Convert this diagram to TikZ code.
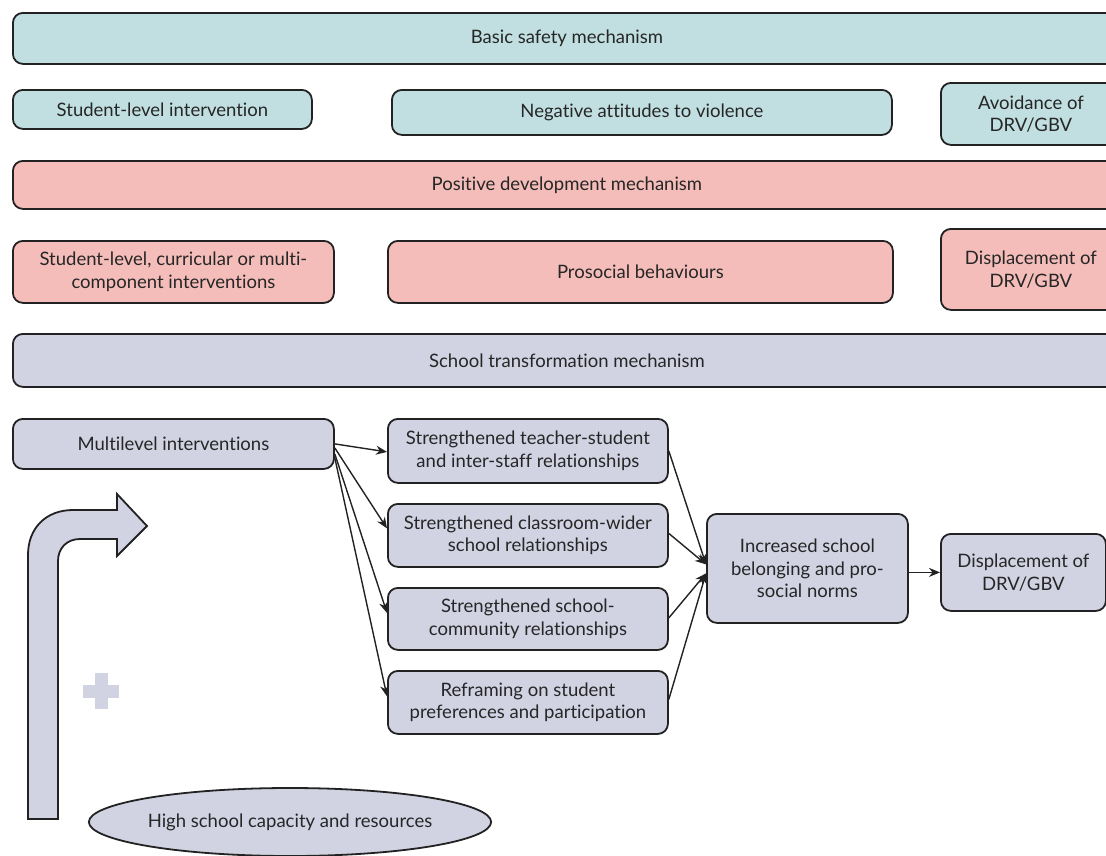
\documentclass[tikz,border=0pt]{standalone}
\usepackage{fontspec}
\setmainfont{Lato}[Ligatures=NoCommon]
\usetikzlibrary{arrows.meta,shapes.geometric}

\definecolor{tealc}{HTML}{C1DFE1}
\definecolor{pinkc}{HTML}{F5BDB9}
\definecolor{lavc}{HTML}{D1D3E3}
\definecolor{edgec}{HTML}{222222}
\definecolor{inkc}{HTML}{262626}

\begin{document}
\begin{tikzpicture}[x=1pt,y=-1pt,
  box/.style={draw=edgec, line width=1.8pt, rounded corners=10pt, inner sep=0pt,
    align=center, text=inkc, font=\fontsize{18.5}{22.5}\selectfont, anchor=north west},
  safetybox/.style={box, fill=tealc},
  devbox/.style={box, fill=pinkc},
  schoolbox/.style={box, fill=lavc},
  arr/.style={draw=edgec, line width=1.4pt, -{Stealth[length=11pt,width=9pt]}}]

\path[use as bounding box] (0,0) rectangle (1106,855);
\clip (0,0) rectangle (1106,855);

% basic safety mechanism
\node[safetybox, minimum width=1108pt, minimum height=51pt] (bs) at (12,12) {Basic safety mechanism};
\node[safetybox, minimum width=299pt, minimum height=39pt] (sl) at (12,89) {Student-level intervention};
\node[safetybox, minimum width=500pt, minimum height=45pt] (na) at (391,89) {Negative attitudes to violence};
\node[safetybox, minimum width=180pt, minimum height=62pt] (av) at (940,82) {Avoidance of\\DRV/GBV};

% positive development mechanism
\node[devbox, minimum width=1108pt, minimum height=48pt] (pd) at (12,160) {Positive development mechanism};
\node[devbox, minimum width=321pt, minimum height=62pt] (sc) at (12,240) {Student-level, curricular or multi-\\component interventions};
\node[devbox, minimum width=505pt, minimum height=62pt] (pb) at (387,240) {Prosocial behaviours};
\node[devbox, minimum width=180pt, minimum height=81pt] (dp) at (940,228) {Displacement of\\DRV/GBV};

% school transformation mechanism
\node[schoolbox, minimum width=1108pt, minimum height=53pt] (st) at (12,333) {School transformation mechanism};
\node[schoolbox, minimum width=321pt, minimum height=50pt] (ml) at (12,418) {Multilevel interventions};
\node[schoolbox, minimum width=280pt, minimum height=64pt] (a) at (387,418) {Strengthened teacher-student\\and inter-staff relationships};
\node[schoolbox, minimum width=280pt, minimum height=63pt] (b) at (387,503) {Strengthened classroom-wider\\school relationships};
\node[schoolbox, minimum width=280pt, minimum height=62pt] (c) at (387,587) {Strengthened school-\\community relationships};
\node[schoolbox, minimum width=280pt, minimum height=63pt] (d) at (387,670) {Reframing on student\\preferences and participation};
\node[schoolbox, minimum width=201pt, minimum height=109pt] (e) at (706,513) {Increased school\\belonging and pro-\\social norms};
\node[schoolbox, minimum width=165pt, minimum height=77pt] (f) at (940,533) {Displacement of\\DRV/GBV};

\node[ellipse, draw=edgec, line width=1.8pt, fill=lavc, inner sep=0pt, text=inkc,
  font=\fontsize{18.5}{22.5}\selectfont, minimum width=401pt, minimum height=68pt] (hs) at (290,822)
  {High school capacity and resources};

% connectors
\draw[arr] (ml.east) -- ([yshift=-1pt]a.west);
\draw[arr] ([yshift=-4pt]ml.east) -- ([yshift=7pt]b.west);
\draw[arr] ([yshift=-10pt]ml.east) -- ([yshift=6pt]c.west);
\draw[arr] ([yshift=-14pt]ml.east) -- ([yshift=6pt]d.west);
\draw[arr] (a.east) -- ([yshift=4pt]e.west);
\draw[arr] ([yshift=2pt]b.east) -- ([yshift=4pt]e.west);
\draw[arr] ([yshift=1pt]c.east) -- ([yshift=-5pt]e.west);
\draw[arr] ([yshift=3pt]d.east) -- ([yshift=-5pt]e.west);
\draw[arr] (e.east |- f.west) -- (f.west);

% bent upward arrow
\draw[draw=edgec, line width=1.8pt, fill=lavc, line join=miter]
  (28,819) -- (28,555) .. controls (28,528) and (46,510) .. (73,510) -- (117,510)
  -- (117,494) -- (147,526) -- (117,556) -- (117,539) -- (80,539)
  .. controls (67,539) and (58,548) .. (58,561) -- (58,819) -- cycle;

% plus sign
\fill[lavc] (83,685) rectangle (119,698);
\fill[lavc] (95,673) rectangle (108,709);

\end{tikzpicture}
\end{document}
